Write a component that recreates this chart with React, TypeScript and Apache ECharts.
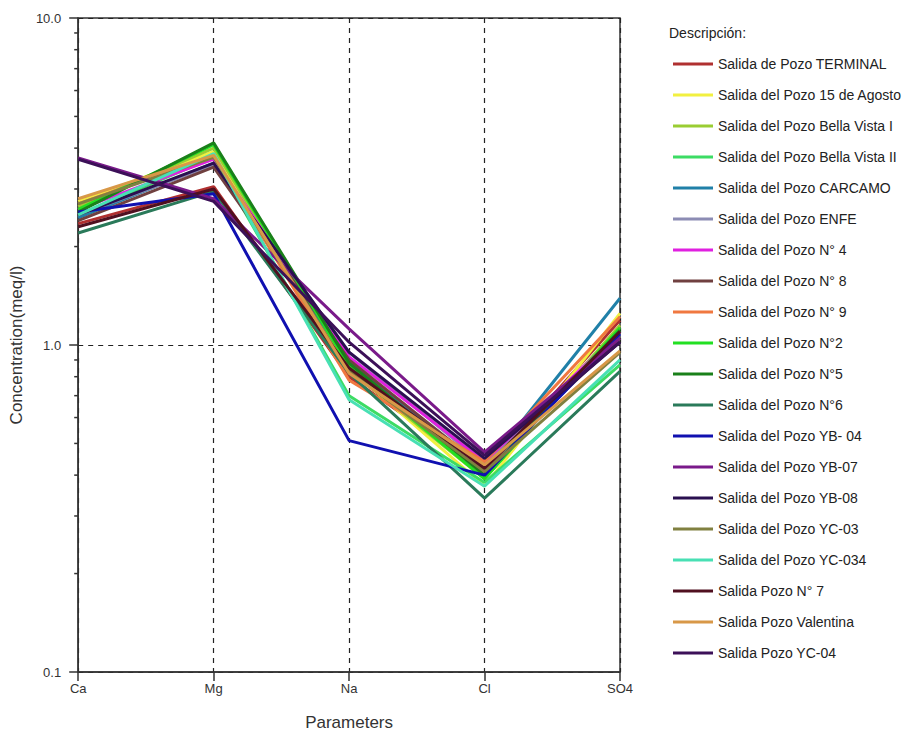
import React, { useEffect, useRef } from "react";
import * as echarts from "echarts";

const parameters = ["Ca", "Mg", "Na", "Cl", "SO4"];

const seriesNames = [
  "Salida de Pozo TERMINAL",
  "Salida del Pozo 15 de Agosto",
  "Salida del Pozo Bella Vista I",
  "Salida del Pozo Bella Vista II",
  "Salida del Pozo CARCAMO",
  "Salida del Pozo ENFE",
  "Salida del Pozo N° 4",
  "Salida del Pozo N° 8",
  "Salida del Pozo N° 9",
  "Salida del Pozo N°2",
  "Salida del Pozo N°5",
  "Salida del Pozo N°6",
  "Salida del Pozo YB- 04",
  "Salida del Pozo YB-07",
  "Salida del Pozo YB-08",
  "Salida del Pozo YC-03",
  "Salida del Pozo YC-034",
  "Salida Pozo N° 7",
  "Salida Pozo Valentina",
  "Salida Pozo YC-04",
];

const seriesColors = [
  "#b03030", "#f2f040", "#9acd32", "#3cdc64", "#2080a8",
  "#8c8cb4", "#e020e0", "#704040", "#f07840", "#22e022",
  "#1a801a", "#2a7a5a", "#1010b0", "#7a1a8a", "#2a1050",
  "#808040", "#48e0b4", "#501020", "#d89848", "#3c1058",
];

// Concentrations (meq/l) for Ca, Mg, Na, Cl, SO4
const terminal = [2.35, 3.05, 0.8, 0.41, 1.19];
const agosto15 = [2.75, 3.9, 0.85, 0.37, 1.25];
const bellaVista1 = [2.65, 4.0, 0.84, 0.39, 1.15];
const bellaVista2 = [2.5, 3.75, 0.7, 0.38, 0.87];
const carcamo = [2.45, 3.6, 0.88, 0.42, 1.39];
const enfe = [2.5, 3.55, 0.95, 0.43, 1.08];
const n4 = [2.6, 3.7, 0.92, 0.44, 1.1];
const n8 = [2.4, 3.5, 0.9, 0.42, 1.05];
const n9 = [2.7, 3.8, 0.78, 0.44, 1.22];
const n2 = [2.6, 4.1, 0.86, 0.39, 1.13];
const n5 = [2.55, 4.15, 0.88, 0.4, 1.11];
const n6 = [2.2, 2.95, 0.82, 0.34, 0.83];
const yb04 = [2.55, 2.9, 0.51, 0.4, 1.08];
const yb07 = [3.73, 2.8, 1.12, 0.47, 1.05];
const yb08 = [2.5, 3.6, 0.95, 0.45, 1.02];
const yc03 = [2.7, 3.75, 0.83, 0.41, 0.95];
const yc034 = [2.5, 3.85, 0.68, 0.37, 0.9];
const n7 = [2.3, 3.0, 0.85, 0.42, 1.1];
const valentina = [2.8, 3.8, 0.82, 0.43, 0.96];
const yc04 = [3.7, 2.75, 1.02, 0.46, 1.02];

const seriesValues = [
  terminal, agosto15, bellaVista1, bellaVista2, carcamo, enfe, n4, n8, n9, n2,
  n5, n6, yb04, yb07, yb08, yc03, yc034, n7, valentina, yc04,
];

const minorTickValues = [
  0.2, 0.3, 0.4, 0.5, 0.6, 0.7, 0.8, 0.9, 2, 3, 4, 5, 6, 7, 8, 9,
];

const FONT = "'Liberation Sans Narrow', 'Liberation Sans', Arial, sans-serif";

export default function App() {
  const ref = useRef<HTMLDivElement>(null);

  useEffect(() => {
    if (!ref.current) return;
    const chart = echarts.init(ref.current, undefined, { renderer: "svg" });

    const lineSeries = seriesNames.map((name, i) => ({
      name,
      type: "line",
      data: seriesValues[i],
      symbol: "none",
      showSymbol: false,
      color: seriesColors[i],
      lineStyle: { width: 3, color: seriesColors[i] },
      z: 3,
    }));

    const option: any = {
      animation: false,
      backgroundColor: "#ffffff",
      title: {
        text: "Descripción:",
        left: 664,
        top: 21,
        textStyle: { fontFamily: FONT, fontSize: 14, fontWeight: "normal", color: "#222" },
      },
      legend: {
        orient: "vertical",
        left: 668,
        top: 52,
        itemWidth: 40,
        itemHeight: 3,
        itemGap: 17,
        icon: "rect",
        data: seriesNames,
        textStyle: {
          fontFamily: FONT,
          fontSize: 14,
          color: "#222",
        },
      },
      grid: {
        left: 76,
        top: 18,
        right: 286,
        bottom: 64,
        show: true,
        borderColor: "#333",
        borderWidth: 1.5,
        containLabel: false,
      },
      xAxis: {
        type: "category",
        data: parameters,
        boundaryGap: false,
        name: "Parameters",
        nameLocation: "middle",
        nameGap: 42,
        nameTextStyle: { fontFamily: FONT, fontSize: 17, color: "#333" },
        axisLine: { lineStyle: { color: "#333", width: 1.5 } },
        axisTick: { show: true, length: 9, alignWithLabel: true, lineStyle: { color: "#333", width: 1.5 } },
        axisLabel: { fontFamily: FONT, fontSize: 13, color: "#333", margin: 10 },
        splitLine: { show: true, lineStyle: { color: "#222", type: [5, 5], width: 1.2 } },
      },
      yAxis: {
        type: "log",
        logBase: 10,
        min: 0.1,
        max: 10,
        name: "Concentration(meq/l)",
        nameLocation: "middle",
        nameGap: 46,
        nameTextStyle: { fontFamily: FONT, fontSize: 17, color: "#333" },
        axisLine: { show: true, lineStyle: { color: "#333", width: 1.5 } },
        axisTick: { show: true, length: 9, lineStyle: { color: "#333", width: 1.5 } },
        axisLabel: {
          fontFamily: FONT,
          fontSize: 13,
          color: "#333",
          margin: 17,
          formatter: (v: number) => (v >= 10 ? "10.0" : v >= 1 ? "1.0" : "0.1"),
        },
        splitLine: { show: true, lineStyle: { color: "#222", type: [5, 5], width: 1.2 } },
      },
      series: [
        ...lineSeries,
        {
          type: "custom",
          name: "minorTicks",
          clip: false,
          silent: true,
          data: minorTickValues.map((v) => [0, v]),
          renderItem: (params: any, api: any) => {
            const p = api.coord([0, api.value(1)]);
            return {
              type: "line",
              shape: { x1: p[0] - 4, y1: p[1], x2: p[0], y2: p[1] },
              style: { stroke: "#333", lineWidth: 1.5 },
            };
          },
          z: 5,
        },
      ],
    };

    chart.setOption(option);
    return () => chart.dispose();
  }, []);

  return (
    <div
      ref={ref}
      style={{ position: "fixed", left: 0, top: 0, width: 906, height: 736, background: "#fff" }}
    />
  );
}
